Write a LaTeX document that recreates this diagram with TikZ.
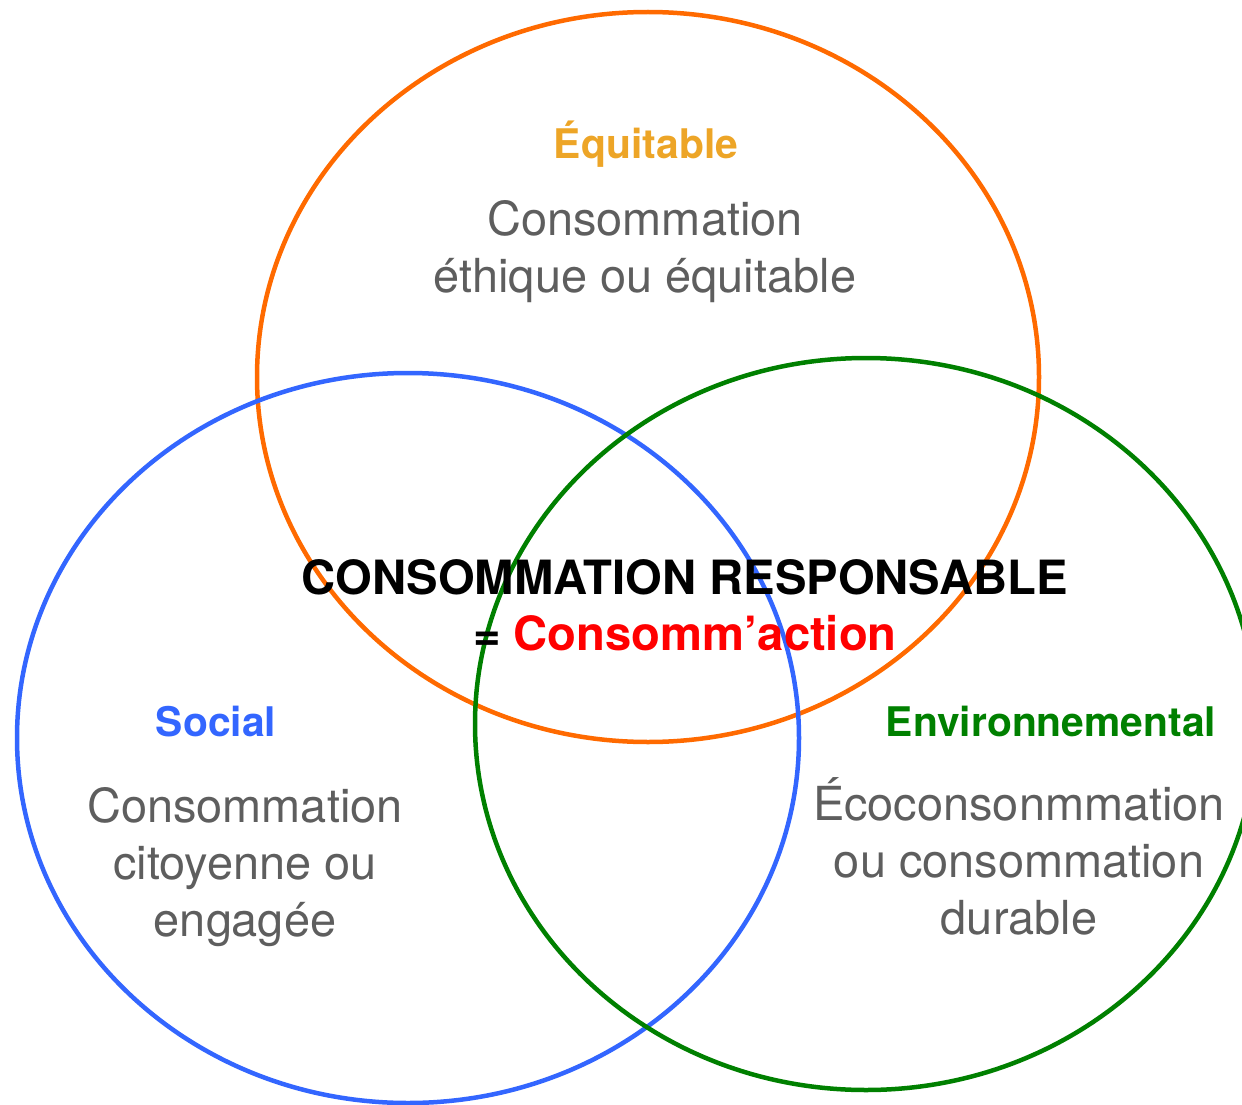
\documentclass[tikz,border=0pt]{standalone}
\usepackage{fontspec}
\setmainfont{TeX Gyre Heros}

\definecolor{equitorange}{HTML}{FF6A00}
\definecolor{equitgold}{HTML}{EDA527}
\definecolor{socialblue}{HTML}{3366FF}
\definecolor{envgreen}{HTML}{008000}
\definecolor{bodygray}{HTML}{5E5E5E}
\definecolor{actionred}{HTML}{FF0000}

\tikzset{
    venn/.style={line width=4.5pt},
    title/.style={font=\bfseries\fontsize{40.8}{50}\selectfont, anchor=base, inner sep=0},
    body/.style={font=\fontsize{46.9}{57}\selectfont, text=bodygray, align=center, anchor=base, inner sep=0},
    motto/.style={font=\bfseries\fontsize{47.2}{56}\selectfont, align=center, anchor=base, inner sep=0}
    }

\begin{document}
\begin{tikzpicture}[x=1pt, y=-1pt]
                \useasboundingbox (0,0) rectangle (1242,1105);
                \clip (0,0) rectangle (1242,1105);
                % The circles
                \coordinate(equitcenter) at (648,377);
                \coordinate(socialcenter) at (408,738);
                \coordinate(envcenter) at (866,724);
                \draw[venn, equitorange] (equitcenter) ellipse [x radius=391, y radius=365];
                \draw[venn, socialblue] (socialcenter) ellipse [x radius=391, y radius=365];
                \draw[venn, envgreen] (envcenter) ellipse [x radius=391, y radius=366];
                % The labels (base = last line)
                \node(equit)[title, text=equitgold] at (646,158) {Équitable};
                \node(equitbody)[body] at (645,292) {Consommation\\éthique ou équitable};
                \node(social)[title, text=socialblue] at (216,736) {Social};
                \node(socialbody)[body] at (245,936) {Consommation\\citoyenne ou\\engagée};
                \node(env)[title, text=envgreen] at (1051,736) {Environnemental};
                \node(envbody)[body] at (1019,934) {Écoconsonmmation\\ou consommation\\durable};
                % The middle
                \node(motto)[motto] at (685,650) {CONSOMMATION RESPONSABLE\\= \textcolor{actionred}{Consomm’action}};
\end{tikzpicture}
\end{document}
